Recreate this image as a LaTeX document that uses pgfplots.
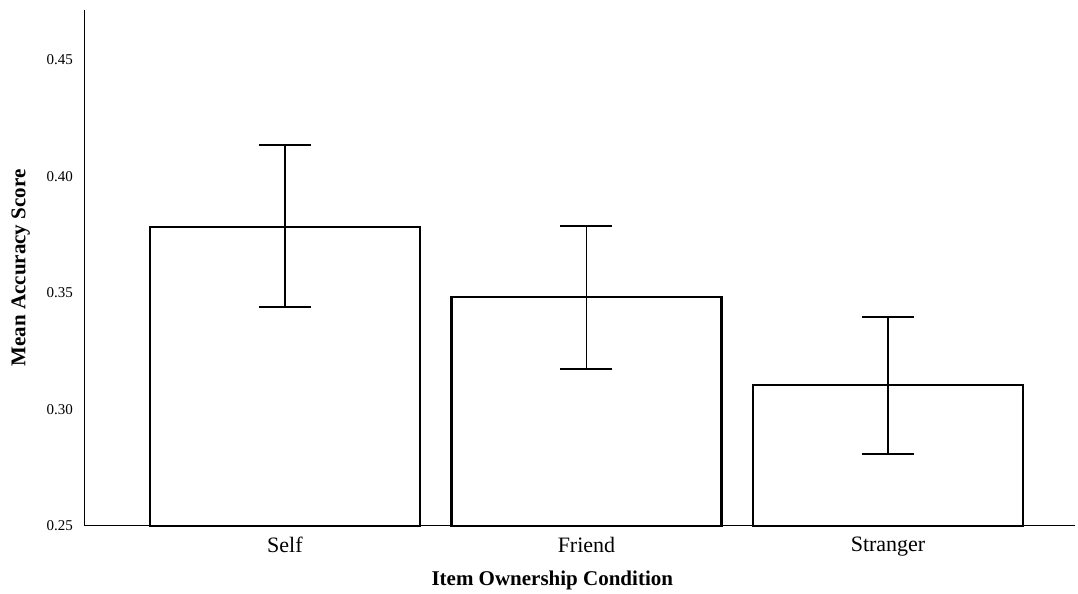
\documentclass[border=0pt]{standalone}
\usepackage{fontspec}
\setmainfont{Liberation Serif}
\usepackage{pgfplots}
\pgfplotsset{compat=1.18}
\begin{document}
\begin{tikzpicture}
\begin{axis}[
  name=ax,
  scale only axis,
  width=495pt, height=258pt,
  xmin=-0.663, xmax=2.62,
  ymin=0.25, ymax=0.4715,
  axis x line*=bottom, axis y line*=left,
  axis line style={-, line width=0.5pt, black},
  major tick length=0pt,
  xtick={0,1,2},
  xticklabels={Self,Friend,Stranger},
  ytick={0.25,0.30,0.35,0.40,0.45},
  yticklabel style={/pgf/number format/fixed, /pgf/number format/fixed zerofill, /pgf/number format/precision=2, font=\fontsize{7.5}{9}\selectfont, xshift=-2.5pt},
  /pgf/number format/assume math mode=true,
  xticklabel style={font=\fontsize{11}{13}\selectfont, yshift=-2pt},
  xlabel={\textbf{Item Ownership Condition}},
  ylabel={\textbf{Mean Accuracy Score}},
  label style={font=\fontsize{10.5}{12}\selectfont},
  xlabel style={at={(axis description cs:0.472,-0.105)}, anchor=center},
  ylabel style={at={(axis description cs:-0.065,0.5)}, anchor=center},
  ybar, bar width=135pt, bar shift=0pt,
  clip=false,
]
\addplot[draw=black, fill=white, line width=1.1pt,
  error bars/.cd, y dir=both, y explicit,
  error bar style={line width=0.65pt, black},
  error mark options={rotate=90, mark size=13pt, line width=0.65pt, black}]
coordinates {
  (0,0.3783) += (0,0.0352) -= (0,0.0343)
  (1,0.3483) += (0,0.0305) -= (0,0.0309)
  (2,0.3105) += (0,0.0292) -= (0,0.0296)
};
\end{axis}
\pgfresetboundingbox
\path[use as bounding box] ([shift={(-42.5pt,-34pt)}]ax.south west) rectangle ([shift={(1.5pt,5pt)}]ax.north east);
\end{tikzpicture}
\end{document}
